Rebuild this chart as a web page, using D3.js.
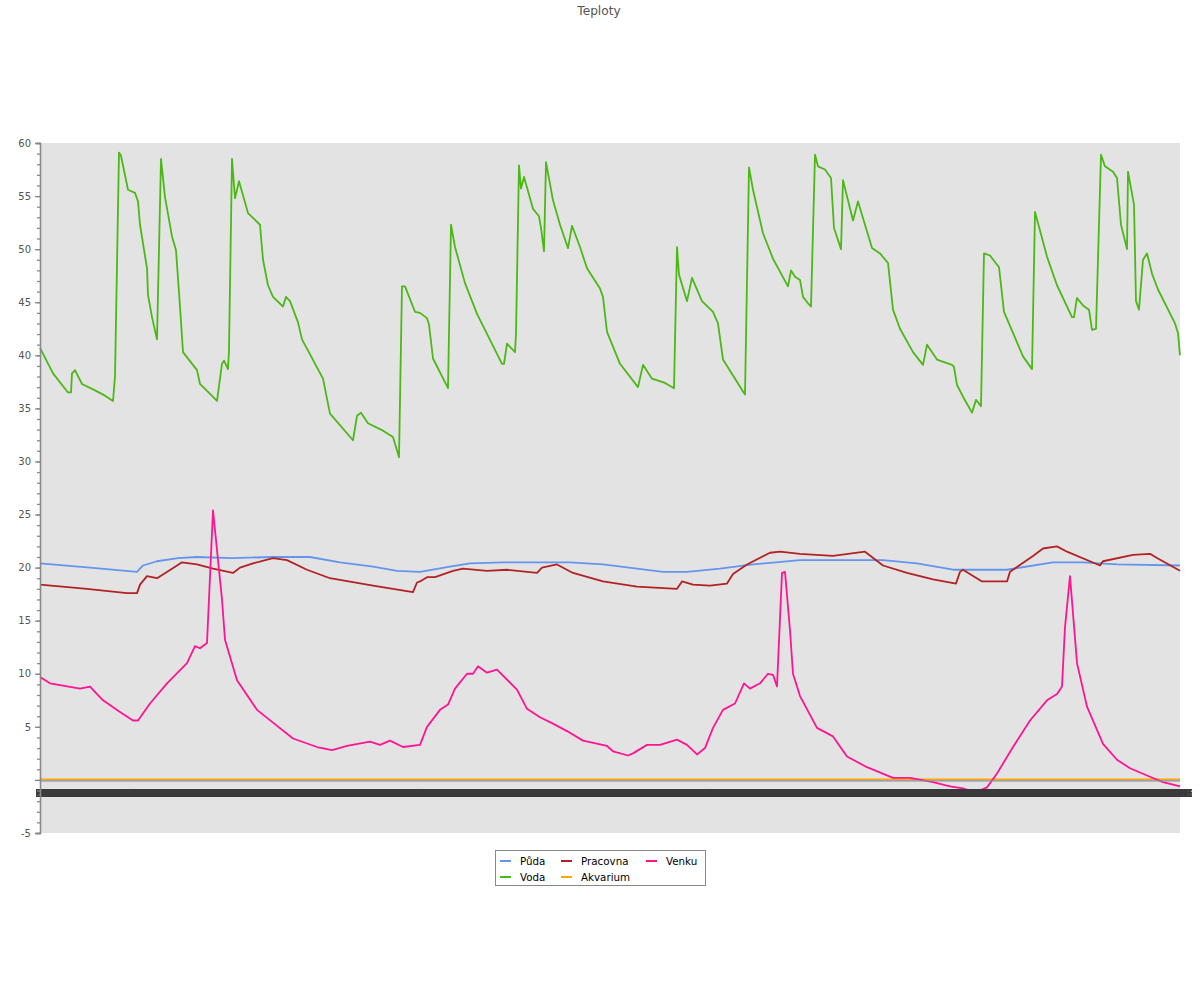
<!DOCTYPE html>
<html>
<head>
<meta charset="utf-8">
<script src="https://cdn.jsdelivr.net/npm/d3@7"></script>
<style>
  html, body { margin: 0; padding: 0; background: #ffffff; }
  svg { display: block; font-family: "DejaVu Sans", sans-serif; }
</style>
</head>
<body>
<svg id="chart" width="1200" height="1000"></svg>
<script>
// ---------- DATA (time index = 5-minute samples, value = °C) ----------
const chartTitle = "Teploty";
const seriesNames = ["Půda", "Voda", "Pracovna", "Akvarium", "Venku"];
const seriesColors = ["#6495ed", "#4cb816", "#b22222", "#ffa500", "#ff1493"];

const pudaData = [[0,20.4],[50,20.0],[97,19.6],[103,20.2],[117,20.6],[138,20.9],[157,21.0],[193,20.9],[233,21.0],[270,21.0],[300,20.5],[333,20.1],[357,19.7],[380,19.6],[410,20.1],[430,20.4],[463,20.5],[530,20.5],[563,20.3],[597,19.9],[623,19.6],[647,19.6],[680,19.9],[713,20.3],[760,20.7],[793,20.7],[843,20.7],[877,20.4],[913,19.8],[940,19.8],[967,19.8],[1013,20.5],[1043,20.5],[1077,20.3],[1140,20.2]];

const vodaData = [[0,40.7],[13,38.3],[28,36.5],[31,36.5],[32,38.3],[35,38.6],[42,37.3],[55,36.7],[65,36.2],[73,35.7],[75,38],[79,59.1],[81,58.8],[88,55.6],[95,55.3],[98,54.5],[100,52.3],[107,48.2],[108,45.7],[112,43.6],[117,41.5],[121,58.5],[125,54.9],[132,51.2],[136,49.9],[140,44.6],[143,40.3],[157,38.6],[160,37.3],[177,35.7],[182,39.2],[184,39.5],[188,38.7],[189,40.5],[192,58.5],[195,54.8],[199,56.4],[208,53.4],[220,52.3],[223,49.0],[228,46.6],[233,45.5],[243,44.6],[246,45.5],[250,45.1],[258,43.1],[262,41.5],[283,37.8],[290,34.5],[313,32.0],[317,34.3],[321,34.6],[328,33.6],[343,32.9],[353,32.3],[359,30.4],[362,46.5],[365,46.5],[375,44.1],[380,44.0],[387,43.5],[389,42.9],[393,39.7],[408,36.9],[411,52.3],[415,50.2],[425,46.8],[437,43.9],[462,39.2],[464,39.2],[467,41.1],[475,40.3],[476,42],[479,57.9],[481,55.7],[484,56.8],[493,53.8],[499,53.1],[501,52],[504,49.8],[506,58.2],[513,54.6],[520,52.3],[528,50.1],[532,52.2],[540,50.2],[547,48.2],[560,46.3],[563,45.5],[567,42.2],[580,39.2],[598,37.0],[603,39.1],[612,37.8],[625,37.4],[634,36.9],[637,50.2],[639,47.6],[647,45.1],[652,47.3],[662,45.1],[673,44.1],[678,43.0],[683,39.6],[703,36.6],[705,36.3],[709,57.7],[713,55.6],[723,51.5],[733,49.1],[748,46.5],[751,48.0],[755,47.4],[760,47.1],[763,45.5],[768,44.9],[771,44.6],[775,58.9],[778,57.8],[785,57.5],[791,56.7],[794,52.0],[801,50.0],[803,56.5],[813,52.7],[818,54.5],[832,50.1],[840,49.6],[848,48.7],[853,44.3],[860,42.5],[873,40.3],[883,39.1],[887,41.0],[897,39.6],[912,39.1],[914,38.9],[917,37.2],[923,36.1],[932,34.6],[936,35.8],[941,35.2],[944,49.6],[950,49.4],[959,48.3],[964,44.1],[983,39.9],[992,38.7],[995,53.5],[1007,49.3],[1017,46.6],[1032,43.6],[1034,43.6],[1037,45.4],[1043,44.7],[1049,44.3],[1052,42.4],[1056,42.5],[1061,58.9],[1065,57.8],[1073,57.3],[1077,56.7],[1081,52.3],[1087,50.0],[1088,57.3],[1094,54.2],[1096,45.1],[1099,44.3],[1103,49.0],[1107,49.6],[1112,47.7],[1118,46.2],[1135,43.0],[1138,42.1],[1140,40.0]];

const pracovnaData = [[0,18.4],[47,18.0],[87,17.6],[97,17.6],[100,18.4],[107,19.2],[117,19.0],[132,19.9],[142,20.5],[157,20.3],[173,19.9],[193,19.5],[200,20.0],[213,20.4],[233,20.9],[247,20.7],[267,19.8],[290,19.0],[333,18.3],[373,17.7],[377,18.6],[380,18.7],[387,19.1],[395,19.1],[413,19.7],[423,19.9],[447,19.7],[467,19.8],[497,19.5],[502,20.0],[517,20.3],[533,19.5],[563,18.7],[597,18.2],[637,18.0],[642,18.7],[653,18.4],[670,18.3],[687,18.5],[693,19.4],[707,20.3],[730,21.4],[740,21.5],[760,21.3],[793,21.1],[825,21.5],[843,20.2],[867,19.5],[893,18.9],[916,18.5],[920,19.6],[923,19.8],[942,18.7],[967,18.7],[970,19.6],[993,21.1],[1003,21.8],[1017,22.0],[1027,21.5],[1060,20.2],[1063,20.6],[1093,21.2],[1110,21.3],[1117,20.9],[1140,19.7]];

const akvariumData = [[0,0],[1140,0]];

const venkuData = [[0,9.7],[10,9.1],[40,8.6],[50,8.8],[63,7.5],[80,6.4],[93,5.6],[98,5.6],[110,7.2],[127,9.1],[147,11.0],[155,12.6],[160,12.4],[167,12.9],[173,25.4],[182,17.0],[185,13.2],[197,9.4],[217,6.6],[233,5.4],[253,3.9],[277,3.1],[292,2.8],[307,3.2],[330,3.6],[340,3.3],[350,3.7],[363,3.1],[380,3.3],[387,5.0],[400,6.6],[408,7.1],[415,8.6],[427,10.0],[433,10.0],[438,10.7],[447,10.1],[457,10.4],[477,8.5],[487,6.7],[500,5.9],[513,5.3],[527,4.6],[543,3.7],[567,3.2],[573,2.7],[588,2.3],[593,2.5],[607,3.3],[620,3.3],[637,3.8],[647,3.3],[657,2.4],[665,3.0],[673,4.9],[683,6.6],[695,7.2],[704,9.1],[710,8.6],[720,9.1],[728,10.0],[733,9.9],[737,8.8],[742,19.5],[745,19.6],[750,14.1],[753,10.0],[760,7.9],[777,4.9],[793,4.1],[807,2.2],[827,1.2],[853,0.2],[870,0.2],[893,-0.2],[910,-0.6],[923,-0.8],[935,-1.2],[947,-0.7],[957,0.6],[973,3.1],[990,5.6],[1007,7.5],[1017,8.1],[1022,8.8],[1025,14.4],[1030,19.2],[1037,11.0],[1047,6.9],[1063,3.4],[1077,1.9],[1090,1.1],[1110,0.3],[1123,-0.2],[1140,-0.6]];

const yMajorTicks = [-5, 0, 5, 10, 15, 20, 25, 30, 35, 40, 45, 50, 55, 60];
const yTickLabels = ["-5", "", "5", "10", "15", "20", "25", "30", "35", "40", "45", "50", "55", "60"];
const yMinorTicks = d3.range(-5, 61, 1);

// x tick labels: one per sample (they overlap into a solid band, as in the original)
const startTime = new Date(2013, 0, 30, 22, 40);
const xTickTimes = d3.range(0, 1141, 1);
const fmt = d3.timeFormat("%-H:%M");
const xTickLabels = xTickTimes.map(i => fmt(new Date(startTime.getTime() + i * 5 * 60000)));

// ---------- DRAW ----------
const svg = d3.select("#chart");
const plotLeft = 40, plotRight = 1180, plotTop = 143, plotBottom = 833;

const x = d3.scaleLinear().domain([0, 1140]).range([plotLeft, plotRight]);
const y = d3.scaleLinear().domain([-5, 60]).range([plotBottom, plotTop]);

// title
svg.append("text").attr("x", 599).attr("y", 15).attr("text-anchor", "middle")
  .attr("font-size", 12.2).attr("fill", "#555").text(chartTitle);

// plot background
svg.append("rect").attr("x", plotLeft).attr("y", plotTop)
  .attr("width", plotRight - plotLeft).attr("height", plotBottom - plotTop).attr("fill", "#e3e3e3");

// series lines
const line = d3.line().x(d => x(d[0])).y(d => y(d[1]));
const allSeries = [pudaData, vodaData, pracovnaData, akvariumData, venkuData];
const gLines = svg.append("g");
allSeries.forEach((data, i) => {
  gLines.append("path").datum(data)
    .attr("d", line)
    .attr("fill", "none")
    .attr("stroke", seriesColors[i])
    .attr("stroke-width", i === 3 ? 1.4 : 1.8)
    .attr("stroke-linejoin", "round")
    .attr("transform", i === 3 ? "translate(0,-0.6)" : null);
});

// zero (x-axis) line
svg.append("line").attr("x1", plotLeft).attr("x2", plotRight)
  .attr("y1", y(0) + 0.9).attr("y2", y(0) + 0.9)
  .attr("stroke", "#8c8c8c").attr("stroke-width", 1.3);

// x tick labels band
const clip = svg.append("defs").append("clipPath").attr("id", "xclip");
clip.append("rect").attr("x", 36).attr("y", 780).attr("width", 1156).attr("height", 30);
const gx = svg.append("g").attr("clip-path", "url(#xclip)");
gx.selectAll("text").data(xTickTimes).join("text")
  .attr("x", d => x(d)).attr("y", 797)
  .attr("text-anchor", "middle")
  .attr("font-size", 11)
  .attr("fill", "#3a3a3a")
  .text((d, i) => xTickLabels[i]);

// y axis: minor ticks
const yMinor = d3.axisLeft(y).tickValues(yMinorTicks).tickSize(3).tickFormat("");
const gMinor = svg.append("g").attr("transform", `translate(${plotLeft},0)`).call(yMinor);
// y axis: major ticks with labels
const yMajor = d3.axisLeft(y).tickValues(yMajorTicks).tickSize(5).tickPadding(4)
  .tickFormat((d, i) => yTickLabels[i]);
const gMajor = svg.append("g").attr("transform", `translate(${plotLeft},0)`).call(yMajor);
[gMinor, gMajor].forEach(g => {
  g.select(".domain").attr("stroke", "#888").attr("stroke-width", 1.3);
  g.selectAll(".tick line").attr("stroke", "#888").attr("stroke-width", 1.3);
  g.selectAll(".tick text").attr("fill", "#555").attr("font-size", 10)
    .attr("font-family", "DejaVu Sans, sans-serif");
});

// legend
const legend = svg.append("g");
legend.append("rect").attr("x", 495.5).attr("y", 850.5).attr("width", 210).attr("height", 35)
  .attr("fill", "#ffffff").attr("stroke", "#888").attr("stroke-width", 1);
const legendPos = [[500, 861], [500, 877], [561, 861], [561, 877], [646, 861]];
seriesNames.forEach((name, i) => {
  const [lx, ly] = legendPos[i];
  legend.append("line").attr("x1", lx).attr("x2", lx + 11).attr("y1", ly).attr("y2", ly)
    .attr("stroke", seriesColors[i]).attr("stroke-width", 2);
  legend.append("text").attr("x", lx + 20).attr("y", ly + 3.5)
    .attr("font-size", 10.3).attr("fill", "#000").text(name);
});
</script>
</body>
</html>
